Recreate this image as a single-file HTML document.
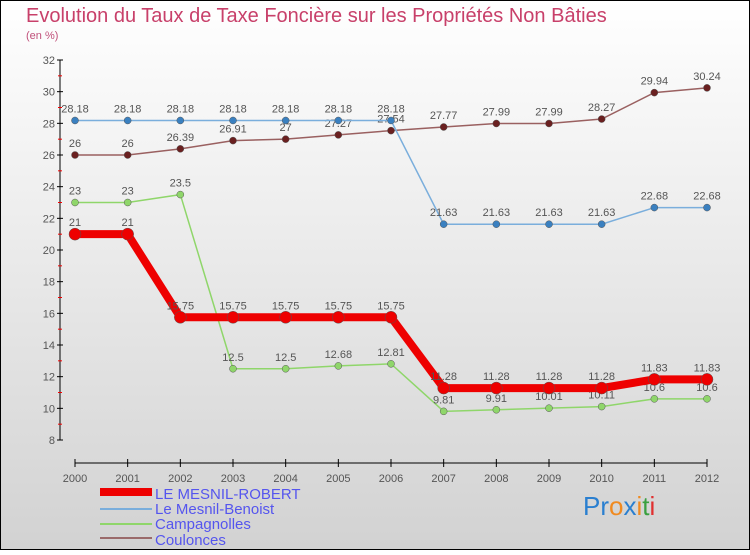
<!DOCTYPE html>
<html><head><meta charset="utf-8"><style>
html,body{margin:0;padding:0}
body{width:750px;height:550px;overflow:hidden;font-family:"Liberation Sans",sans-serif}
</style></head><body>
<svg width="750" height="550" xmlns="http://www.w3.org/2000/svg">
<defs><linearGradient id="bg" x1="0" y1="0" x2="0" y2="1"><stop offset="0" stop-color="#ffffff"/><stop offset="1" stop-color="#d2d2d2"/></linearGradient></defs>
<rect x="0.5" y="0.5" width="749" height="549" fill="url(#bg)" stroke="#000"/>
<text x="26" y="22" font-size="20" fill="#c8406a">Evolution du Taux de Taxe Foncière sur les Propriétés Non Bâties</text>
<text x="26" y="39" font-size="11" fill="#c0507a">(en %)</text>
<g id="axes"></g>
<g id="series"></g>
<g>
<rect x="100" y="488" width="52" height="8" fill="#e00"/>
<text x="155" y="499" font-size="15" fill="#5555ee">LE MESNIL-ROBERT</text>
<line x1="100" y1="509" x2="152" y2="509" stroke="#7aaedc" stroke-width="2"/>
<text x="155" y="514" font-size="15" fill="#5555ee">Le Mesnil-Benoist</text>
<line x1="100" y1="524" x2="152" y2="524" stroke="#8fd66a" stroke-width="2"/>
<text x="155" y="529" font-size="15" fill="#5555ee">Campagnolles</text>
<line x1="100" y1="538" x2="152" y2="538" stroke="#9a6a6a" stroke-width="2"/>
<text x="155" y="545" font-size="15" fill="#5555ee">Coulonces</text>
</g>
<text x="583" y="515" font-size="26"><tspan fill="#2a7fd0">Pr</tspan><tspan fill="#f08a20">o</tspan><tspan fill="#2a7fd0">x</tspan><tspan fill="#f08a20">i</tspan><tspan fill="#3aa040">t</tspan><tspan fill="#e03030">i</tspan></text>
</svg>
<script>
const years=[2000,2001,2002,2003,2004,2005,2006,2007,2008,2009,2010,2011,2012];
const yTicks=[8,10,12,14,16,18,20,22,24,26,28,30,32];
const robert=[21,21,15.75,15.75,15.75,15.75,15.75,11.28,11.28,11.28,11.28,11.83,11.83];
const benoist=[28.18,28.18,28.18,28.18,28.18,28.18,28.18,21.63,21.63,21.63,21.63,22.68,22.68];
const campagnolles=[23,23,23.5,12.5,12.5,12.68,12.81,9.81,9.91,10.01,10.11,10.6,10.6];
const coulonces=[26,26,26.39,26.91,27,27.27,27.54,27.77,27.99,27.99,28.27,29.94,30.24];
const NS="http://www.w3.org/2000/svg";
const X=i=>75+i*(632/(years.length-1));
const Y=v=>440-(v-8)*(380/24);
function mk(t,a,p){const e=document.createElementNS(NS,t);for(const k in a)e.setAttribute(k,a[k]);p.appendChild(e);return e;}
const ax=document.getElementById('axes');
let yl=mk('line',{x1:60,y1:Y(32),x2:60,y2:Y(8),stroke:'#000'},ax);


yTicks.forEach((v,k)=>{
 mk('line',{x1:57,y1:Y(v),x2:63,y2:Y(v),stroke:'#000'},ax);
 if(k<yTicks.length-1) mk('line',{x1:58,y1:Y(v+1),x2:62,y2:Y(v+1),stroke:'#e00'},ax);
 const t=mk('text',{x:55,y:Y(v)+4,'font-size':11,fill:'#555','text-anchor':'end'},ax);t.textContent=v;
 
 
});
let xl=mk('line',{x1:75,y1:463,x2:707,y2:463,stroke:'#000'},ax);


years.forEach((y,i)=>{
 mk('line',{x1:X(i),y1:459,x2:X(i),y2:467,stroke:'#000'},ax);
 const t=mk('text',{x:X(i),y:482,'font-size':11,fill:'#555','text-anchor':'middle'},ax);t.textContent=y;
 
 
});
const sg=document.getElementById('series');
function series(d,col,w,r,dot,name){
 const g=mk('g',{},sg);
 
 
 mk('polyline',{points:d.map((v,i)=>X(i)+','+Y(v)).join(' '),fill:'none',stroke:col,'stroke-width':w},g);
 d.forEach((v,i)=>{
  const c=mk('circle',{cx:X(i),cy:Y(v),r:r,fill:dot,stroke:'#555','stroke-width':0.5},g);
  
  
  const t=mk('text',{x:X(i),y:Y(v)-8,'font-size':11,fill:'#555','text-anchor':'middle'},g);t.textContent=v;
  
  
 });
}
series(coulonces,'#9a6060',1.5,3.5,'#6a2020','coulonces');
series(campagnolles,'#8fd66a',1.5,3.5,'#8fd66a','campagnolles');
series(benoist,'#7aaedc',1.5,3.5,'#3a80c0','le-mesnil-benoist');
series(robert,'#e00',8,6,'#e00','le-mesnil-robert');
</script>
</body></html>
